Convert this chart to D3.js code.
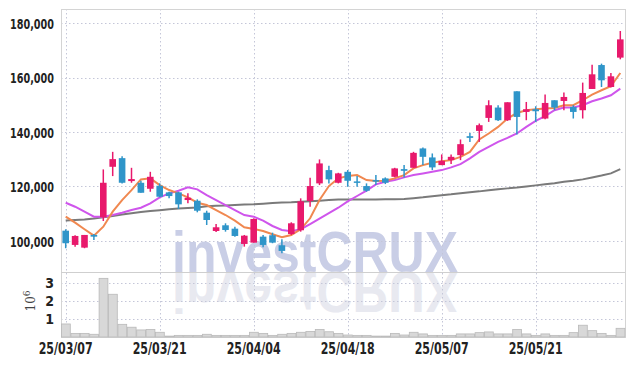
<!DOCTYPE html>
<html><head><meta charset="utf-8">
<script src="https://cdn.jsdelivr.net/npm/d3@7"></script>
<style>
html,body{margin:0;padding:0;background:#fff;}
svg{display:block;}
.lbl{font-family:"DejaVu Sans",sans-serif;font-stretch:condensed;fill:#222;}
</style></head>
<body>
<svg id="chart" width="634" height="366"></svg>
<script>
const dates = ["25/03/07","25/03/10","25/03/11","25/03/12","25/03/13","25/03/14","25/03/17","25/03/18","25/03/19","25/03/20",
"25/03/21","25/03/24","25/03/25","25/03/26","25/03/27","25/03/28","25/03/31","25/04/01","25/04/02","25/04/03",
"25/04/04","25/04/07","25/04/08","25/04/09","25/04/10","25/04/11","25/04/14","25/04/15","25/04/16","25/04/17",
"25/04/18","25/04/21","25/04/22","25/04/23","25/04/24","25/04/25","25/04/28","25/04/29","25/04/30","25/05/02",
"25/05/07","25/05/08","25/05/09","25/05/12","25/05/13","25/05/14","25/05/15","25/05/16","25/05/19","25/05/20",
"25/05/21","25/05/22","25/05/23","25/05/26","25/05/27","25/05/28","25/05/29","25/05/30","25/06/02","25/06/04"];
const openV = [103770,98540,97550,102200,108680,127220,130400,121980,121360,119160,
120260,117840,117840,115020,114760,110370,103660,105750,104510,98900,
99380,101580,102090,98420,102560,103920,114650,121130,126010,121360,
125380,121860,120150,122340,122970,123550,126370,126850,133960,130660,
127840,129670,131500,138460,140400,145170,148970,144320,154940,147360,
148350,144940,151650,151390,149200,147990,155790,164580,156520,167300];
const highV = [104280,102090,102200,102560,126260,132710,131130,126850,122090,125380,
121130,118060,118060,117470,115270,111100,106230,106480,105240,102200,
108310,102200,103040,100620,106850,115640,123190,129930,127580,125020,
126010,123810,121130,124180,123330,126850,127840,132710,134320,132120,
131760,131760,137250,139670,143110,151650,149820,150910,154940,151030,
149450,153740,151650,154470,149820,158130,164720,165090,161650,177080];
const lowV = [97330,97910,97330,100370,107330,123810,121130,121360,117690,118060,
116010,115640,111720,113810,110510,105860,103300,103410,101580,97910,
99380,97690,99160,95490,102200,103410,112560,120510,121130,121130,
119890,119890,118060,120510,120880,123330,123330,126850,127840,126010,
127840,128210,129670,136370,136370,143700,144070,144070,139080,144320,
143700,144690,147990,147990,144940,144940,155790,156520,156300,166680];
const closeV = [99160,101830,102200,101580,121360,130040,121360,122710,117690,123550,
116230,116480,113440,115860,111100,107690,105020,104030,101830,101940,
108060,98540,99380,96340,106480,114540,120150,128460,122600,124800,
122090,121720,118430,122230,121360,126630,125750,132340,130880,127000,
129410,130880,135530,137840,142490,149820,144320,150910,145530,148350,
147620,150660,148970,152860,147360,154330,161170,158970,160440,174000];
const volumeV = [720000,200000,200000,150000,3240000,2360000,700000,540000,390000,420000,
260000,50000,90000,90000,90000,150000,90000,90000,90000,90000,
260000,200000,90000,150000,200000,260000,310000,420000,290000,200000,
110000,90000,90000,50000,50000,200000,110000,260000,170000,90000,
90000,90000,170000,170000,240000,280000,170000,170000,420000,170000,
90000,170000,90000,90000,240000,650000,350000,200000,90000,480000];
const maShort = [108900,106700,104280,101940,105240,110740,115020,118680,122600,122970,
120510,118680,117470,116010,114030,113190,111350,109520,107440,105020,
104400,103660,102450,101350,102200,104280,108310,115020,120150,122970,
123810,124180,122340,121980,122090,122970,124180,126630,127840,128680,
129300,129670,130880,132710,137250,139450,141870,144940,147000,147990,
148350,148610,148820,149820,149820,151650,153740,155310,156780,161650];
const maMid = [114030,112560,110740,108900,108900,109520,110370,111350,112200,113810,
116010,117470,118430,119670,118940,116850,115020,113190,111350,109520,
108900,107440,105490,104030,103550,104300,106200,108200,110200,112200,
114500,116500,118500,120760,121720,122340,123330,124180,124800,125380,
126010,127000,128210,130290,132710,134540,136370,137840,139450,141870,
144070,145790,147990,148970,148970,149820,151280,152270,153480,155930];
const maLong = [107500,107700,107900,108200,108700,109200,109700,110200,110600,111000,
111300,111600,111900,112100,112300,112700,112900,113000,113200,113400,
113500,113700,113900,114100,114200,114400,114600,114800,115000,115200,
115200,115200,115200,115200,115300,115300,115400,115700,116000,116400,
116800,117100,117500,117900,118200,118600,119000,119300,119600,120000,
120400,120800,121200,121700,122100,122600,123300,124000,124800,126400];
const priceTicks = [100000,120000,140000,160000,180000];
const volTicks = [1,2,3];
const dateTickIdx = [0,10,20,30,40,50];

const svg = d3.select("#chart");
const L = 61, R = 625, mainTop = 9, mainBot = 272, volBot = 337;
const idx = d3.range(dates.length);
const x = d3.scaleBand().domain(idx).range([L, R]).padding(0);
const bw = x.bandwidth();
const cx = i => x(i) + bw/2;
const y = d3.scaleLinear().domain([88600, 185150]).range([mainBot, mainTop]);
const yv = d3.scaleLinear().domain([0, 3.59]).range([volBot, mainBot]);

// watermark
const wm = svg.append("g");
wm.append("text").attr("x", 172).attr("y", 272).attr("textLength", 286).attr("lengthAdjust","spacingAndGlyphs")
  .style("font-family","Liberation Sans, Arial, sans-serif").style("font-weight","bold").style("font-size","58px")
  .attr("fill","#c9cee6").text("investCRUX");
wm.append("text").attr("x", 172).attr("y", 272).attr("textLength", 286).attr("lengthAdjust","spacingAndGlyphs")
  .attr("transform","translate(0,544) scale(1,-1)")
  .style("font-family","Liberation Sans, Arial, sans-serif").style("font-weight","bold").style("font-size","58px")
  .attr("fill","#e8e9f0").text("investCRUX");

// gridlines
const grid = svg.append("g").attr("stroke","#c4c6d8").attr("stroke-width",1).attr("stroke-dasharray","1.5,2.5");
grid.selectAll(".hg").data(priceTicks).join("line")
  .attr("x1", L).attr("x2", R).attr("y1", d => Math.round(y(d))+0.5).attr("y2", d => Math.round(y(d))+0.5);
grid.selectAll(".vg").data(volTicks).join("line").attr("class","vg")
  .attr("x1", L).attr("x2", R).attr("y1", d => Math.round(yv(d))+0.5).attr("y2", d => Math.round(yv(d))+0.5);
grid.selectAll(".xg").data(dateTickIdx).join("line").attr("class","xg")
  .attr("x1", d => Math.round(cx(d))+0.5).attr("x2", d => Math.round(cx(d))+0.5).attr("y1", mainTop).attr("y2", volBot);

// frame
svg.append("rect").attr("x", L+0.5).attr("y", mainTop+0.5).attr("width", R-L).attr("height", volBot-mainTop)
  .attr("fill","none").attr("stroke","#d4d4d4");
svg.append("line").attr("x1", L).attr("x2", R).attr("y1", mainBot+0.5).attr("y2", mainBot+0.5).attr("stroke","#cfcfcf");

// volume bars
svg.append("g").selectAll("rect").data(idx).join("rect")
  .attr("x", i => x(i)+0.5).attr("width", bw-0.6)
  .attr("y", i => yv(volumeV[i]/1e6)).attr("height", i => volBot - yv(volumeV[i]/1e6))
  .attr("fill","#d8d8d8").attr("stroke","#b9b9b9").attr("stroke-width",0.8);

// moving averages
const line = arr => d3.line().x((d,i) => cx(i)).y(d => y(d))(arr);
svg.append("path").attr("d", line(maLong)).attr("fill","none").attr("stroke","#7a7a7a").attr("stroke-width",2);
svg.append("path").attr("d", line(maMid)).attr("fill","none").attr("stroke","#cf55ec").attr("stroke-width",2);
svg.append("path").attr("d", line(maShort)).attr("fill","none").attr("stroke","#f08850").attr("stroke-width",2);

// candles
const upC = "#e8196c", dnC = "#2f95c9";
const cg = svg.append("g");
cg.selectAll("line").data(idx).join("line")
  .attr("x1", i => cx(i)).attr("x2", i => cx(i))
  .attr("y1", i => y(highV[i])).attr("y2", i => y(lowV[i]))
  .attr("stroke", i => closeV[i] >= openV[i] ? upC : dnC).attr("stroke-width",1.5);
cg.selectAll("rect").data(idx).join("rect")
  .attr("x", i => cx(i)-3.3).attr("width", 6.6)
  .attr("y", i => y(Math.max(openV[i], closeV[i])))
  .attr("height", i => Math.max(1.5, Math.abs(y(openV[i]) - y(closeV[i]))))
  .attr("fill", i => closeV[i] >= openV[i] ? upC : dnC);

// y axis labels
const fmt = d3.format(",");
svg.append("g").selectAll("text").data(priceTicks).join("text").attr("class","lbl")
  .attr("x", 54).attr("y", d => y(d)).attr("dy","0.4em").attr("text-anchor","end")
  .attr("textLength", 44).attr("lengthAdjust","spacingAndGlyphs")
  .style("font-size","14px").style("font-weight","bold").text(d => fmt(d));
svg.append("g").selectAll("text").data(volTicks).join("text").attr("class","lbl")
  .attr("x", 54).attr("y", d => yv(d)).attr("dy","0.4em").attr("text-anchor","end")
  .style("font-size","14px").style("font-weight","bold").text(d => d);
const ex = svg.append("text").attr("transform","translate(35,301) rotate(-90)").attr("text-anchor","middle")
  .style("font-family","DejaVu Serif, serif").style("font-size","12px").attr("fill","#444");
ex.append("tspan").text("10");
ex.append("tspan").attr("dy","-5").style("font-size","9px").text("6");

// x labels
svg.append("g").selectAll("text").data(dateTickIdx).join("text").attr("class","lbl")
  .attr("x", i => cx(i) - 27).attr("y", 354)
  .attr("textLength", 54).attr("lengthAdjust","spacingAndGlyphs")
  .style("font-size","15px").style("font-weight","bold").text(i => dates[i]);
</script>
</body></html>
